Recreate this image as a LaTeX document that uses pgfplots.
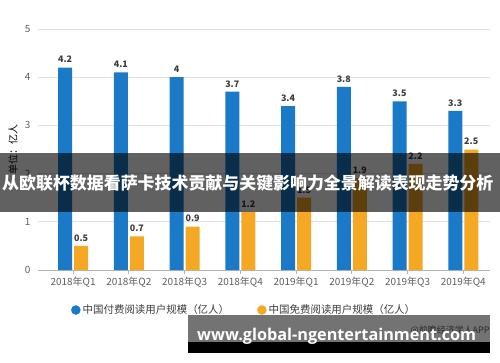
\documentclass[border=0pt]{standalone}
\usepackage{fontspec}
\setmainfont{Noto Sans CJK SC}
\newfontfamily\urlfont{Open Sans}
\usepackage{pgfplots}
\pgfplotsset{compat=1.18}
\definecolor{cblue}{RGB}{26,122,200}
\definecolor{corange}{RGB}{245,168,35}
\definecolor{tickgray}{RGB}{95,95,95}
\definecolor{gridgray}{RGB}{226,226,226}
\definecolor{valgray}{RGB}{60,60,60}
\begin{document}
\begin{tikzpicture}[x=1bp,y=1bp]
\useasboundingbox (0,0) rectangle (500,362);
\begin{axis}[
  at={(38bp,92bp)}, anchor=south west,
  scale only axis, width=452bp, height=241bp,
  ymin=0, ymax=5, xmin=-0.63, xmax=7.48,
  ybar, bar width=14bp,
  /pgf/number format/assume math mode=true,
  axis x line*=bottom, axis y line*=left,
  y axis line style={draw=none},
  x axis line style={draw=gridgray!80!black, line width=0.8bp},
  ytick={0,1,2,3,4,5},
  xtick={0,1,2,3,4,5,6,7},
  xticklabels={2018年Q1,2018年Q2,2018年Q3,2018年Q4,2019年Q1,2019年Q2,2019年Q3,2019年Q4},
  ytick style={draw=none},
  xtick style={draw=gridgray!80!black, line width=0.8bp},
  major tick length=4bp, tick align=outside,
  ymajorgrids, grid style={gridgray, line width=0.8bp},
  tick label style={font=\fontsize{10}{12}\selectfont, text=tickgray},
  ylabel={单位：亿人},
  ylabel style={font=\fontsize{10}{12}\selectfont, text=tickgray},
  every axis y label/.style={at={(axis description cs:-0.055,0.5)}, rotate=90, anchor=center},
  nodes near coords,
  every node near coord/.append style={font=\bfseries\fontsize{9}{10}\selectfont, text=valgray, yshift=1bp},
  legend style={at={(0.456,-0.166)}, anchor=center, draw=none, fill=none,
    legend columns=2, font=\fontsize{10.5}{12}\selectfont, text=valgray,
    /tikz/every even column/.append style={column sep=26bp}},
  legend image code/.code={\fill[#1] (4bp,0bp) circle (4.8bp);},
]
\addplot[fill=cblue, draw=none, bar shift=-8bp] coordinates {(0,4.2) (1,4.1) (2,4) (3,3.7) (4,3.4) (5,3.8) (6,3.5) (7,3.3)};
\addplot[fill=corange, draw=none, bar shift=8bp] coordinates {(0,0.5) (1,0.7) (2,0.9) (3,1.2) (4,1.5) (5,1.9) (6,2.2) (7,2.5)};
\legend{中国付费阅读用户规模（亿人）,中国免费阅读用户规模（亿人）}
\end{axis}
\node[anchor=east, text=tickgray, font=\fontsize{9}{10}\selectfont] at (493,32) {@前瞻经济学人APP};
\fill[black, opacity=0.62] (0,150) rectangle (500,209);
\node[anchor=west, text=white, inner sep=0pt, font=\bfseries\fontsize{17}{18}\selectfont] at (2,179) {从欧联杯数据看萨卡技术贡献与关键影响力全景解读表现走势分析};
\fill[black, opacity=0.55] (188,20) rectangle (490,47);
\fill[black] (188,9) rectangle (490,20);
\node[anchor=base west, text=white, inner sep=0pt, font=\urlfont\bfseries\fontsize{16.3}{18}\selectfont] at (197,22) {www.global-ngentertainment.com};
\end{tikzpicture}
\end{document}
